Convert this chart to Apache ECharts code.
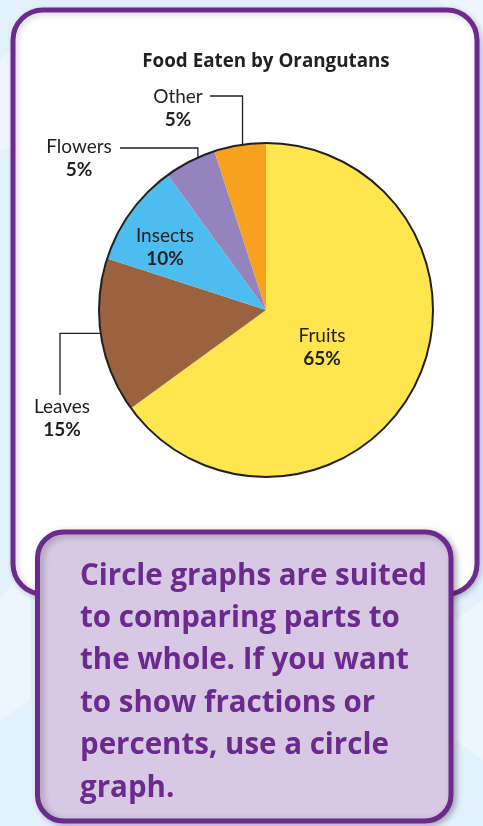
<!DOCTYPE html>
<html>
<head>
<meta charset="utf-8">
<script src="https://cdn.jsdelivr.net/npm/echarts@6/dist/echarts.min.js"></script>
<style>
  html, body { margin: 0; padding: 0; background: #e2f1fb; }
  #chart { width: 483px; height: 826px; }
</style>
</head>
<body>
<div id="chart"></div>
<script>
// Chart data
const titleText = 'Food Eaten by Orangutans';
const categories = ['Fruits', 'Leaves', 'Insects', 'Flowers', 'Other'];
const percents = [65, 15, 10, 5, 5];
const sliceColors = ['#ffe64f', '#9b623f', '#4cbdee', '#9483bd', '#f7a11f'];
const calloutLines = [
  'Circle graphs are suited',
  'to comparing parts to',
  'the whole. If you want',
  'to show fractions or',
  'percents, use a circle',
  'graph.'
];

// Geometry of the pie and its labels
const pieCenter = [266, 310];
const pieRadius = 167;
const anchorRadius = 150;   // where leader lines start inside a slice
const labelPlacement = {
  Fruits:  { pos: [322, 347] },
  Leaves:  { pos: [62, 418], route: 'across', cornerX: 60, endY: 395 },
  Insects: { pos: [165, 247] },
  Flowers: { pos: [79, 158], route: 'up', lineY: 148, endX: 120 },
  Other:   { pos: [178, 108], route: 'up', lineY: 96, endX: 210 }
};

const total = percents.reduce((a, b) => a + b, 0);
let acc = 0;
const midAngles = percents.map(v => {
  const m = (acc + v / 2) / total * 2 * Math.PI;
  acc += v;
  return m;
});
function polar(r, a) {
  return [pieCenter[0] + r * Math.sin(a), pieCenter[1] - r * Math.cos(a)];
}

const ink = '#231f20';
const purple = '#6c2a8e';
const labelFont = 'Lato';

const pieData = categories.map((name, i) => ({
  name: name,
  value: percents[i],
  itemStyle: { color: sliceColors[i] },
  labelLine: { show: !!labelPlacement[name].route }
}));

const chart = echarts.init(document.getElementById('chart'), null, { renderer: 'canvas' });

chart.setOption({
  backgroundColor: '#e2f1fb',
  animation: false,
  graphic: [
    // faint background shapes
    { type: 'polygon', shape: { points: [[0, 60], [40, 20], [90, 60], [60, 140], [0, 150]] }, style: { fill: 'rgba(255,255,255,0.35)' } },
    { type: 'polygon', shape: { points: [[0, 600], [30, 560], [30, 700], [0, 720]] }, style: { fill: 'rgba(255,255,255,0.4)' } },
    { type: 'polygon', shape: { points: [[440, 0], [483, 0], [483, 40], [460, 30]] }, style: { fill: 'rgba(255,255,255,0.4)' } },
    { type: 'polygon', shape: { points: [[455, 620], [483, 600], [483, 760], [455, 740]] }, style: { fill: 'rgba(255,255,255,0.35)' } },
    // chart panel
    {
      type: 'rect',
      shape: { x: 13, y: 10, width: 464, height: 584, r: 30 },
      style: { fill: '#ffffff', stroke: purple, lineWidth: 5,
        shadowBlur: 6, shadowColor: 'rgba(0,0,0,0.18)', shadowOffsetX: 2, shadowOffsetY: 2 }
    },
    // callout panel
    {
      type: 'rect',
      shape: { x: 37.5, y: 532, width: 413.5, height: 289, r: 26 },
      style: { fill: '#d7c8e3', stroke: purple, lineWidth: 5,
        shadowBlur: 6, shadowColor: 'rgba(0,0,0,0.25)', shadowOffsetX: 3, shadowOffsetY: 2 }
    },
    {
      type: 'text',
      x: 80, y: 555,
      style: {
        text: calloutLines.join('\n'),
        font: 'bold 29.5px "Open Sans"',
        fill: purple,
        lineHeight: 42.4,
        verticalAlign: 'top'
      }
    },
    // chart title
    {
      type: 'text',
      x: pieCenter[0], y: 62,
      style: {
        text: titleText,
        font: 'bold 18.8px "Open Sans"',
        fill: ink,
        align: 'center',
        verticalAlign: 'middle'
      }
    }
  ],
  series: [
    {
      type: 'pie',
      center: pieCenter,
      radius: pieRadius,
      startAngle: 90,
      clockwise: true,
      avoidLabelOverlap: false,
      emphasis: { disabled: true },
      silent: true,
      itemStyle: { borderWidth: 0 },
      label: {
        show: true,
        position: 'outside',
        formatter: '{n|{b}}\n{p|{c}%}',
        rich: {
          n: { fontFamily: labelFont, fontSize: 19, color: ink, lineHeight: 23 },
          p: { fontFamily: labelFont, fontSize: 19, fontWeight: 'bold', color: ink, lineHeight: 23 }
        }
      },
      labelLine: {
        show: true,
        smooth: false,
        lineStyle: { color: ink, width: 1.3 }
      },
      labelLayout: function (p) {
        const name = categories[p.dataIndex];
        const lp = labelPlacement[name];
        const out = { x: lp.pos[0], y: lp.pos[1], align: 'center', verticalAlign: 'middle' };
        if (lp.route) {
          const s = polar(anchorRadius, midAngles[p.dataIndex]);
          if (lp.route === 'up') {
            out.labelLinePoints = [s, [s[0], lp.lineY], [lp.endX, lp.lineY]];
          } else {
            out.labelLinePoints = [s, [lp.cornerX, s[1]], [lp.cornerX, lp.endY]];
          }
        }
        return out;
      },
      data: pieData
    },
    {
      // outer rim of the circle
      type: 'pie',
      center: pieCenter,
      radius: pieRadius,
      silent: true,
      z: 3,
      emphasis: { disabled: true },
      label: { show: false },
      labelLine: { show: false },
      data: [{ value: 1, itemStyle: { color: 'rgba(0,0,0,0)', borderColor: ink, borderWidth: 2 } }]
    }
  ]
});
</script>
</body>
</html>
